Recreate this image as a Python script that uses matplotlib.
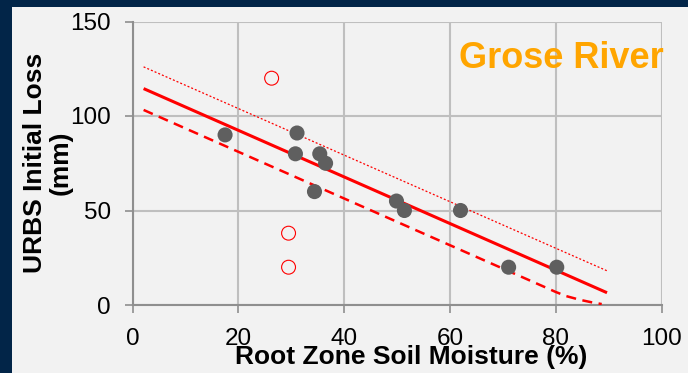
import matplotlib
matplotlib.use("Agg")
import matplotlib.pyplot as plt
from matplotlib.patches import Rectangle

plt.rcParams['font.family'] = ['Liberation Sans', 'DejaVu Sans']

# Observed events: soil moisture (%) vs URBS initial loss (mm)
moisture = [17.5, 31.1, 30.8, 35.4, 36.5, 34.4, 49.9, 51.4, 62.0, 71.1, 80.2]
initial_loss = [90, 91, 80, 80, 75, 60, 55, 50, 50, 20, 20]

# Excluded events (open circles)
outlier_moisture = [26.3, 29.5, 29.5]
outlier_loss = [120, 38, 20]

# Regression line and bounds
fit_x = [2.1, 89.7]
fit_y = [114.5, 6.5]
upper_x = [2.1, 89.7]
upper_y = [126.0, 18.1]
lower_x = [2.1, 78.0, 80.0, 82.0, 84.5, 87.0, 88.7]
lower_y = [103.2, 9.4, 6.9, 4.7, 2.8, 1.3, 0.5]

x_ticks = [0, 20, 40, 60, 80, 100]
y_ticks = [0, 50, 100, 150]

navy = '#022548'
panel = '#f2f2f2'
grid_c = '#bfbfbf'
spine_c = '#8f8f8f'
red = '#ff0000'
dot_c = '#5f5f5f'

fig = plt.figure(figsize=(6.88, 3.73), dpi=100, facecolor=navy)
fig.add_artist(Rectangle((12 / 688, 0), 1 - 12 / 688, 1 - 7 / 373,
                         transform=fig.transFigure, facecolor=panel,
                         edgecolor='none', zorder=-10))

ax = fig.add_axes([132.5 / 688, 1 - 305 / 373, (661.5 - 132.5) / 688, (305 - 21.5) / 373])
ax.set_facecolor(panel)
ax.set_xlim(0, 100)
ax.set_ylim(0, 150)
ax.set_xticks(x_ticks)
ax.set_yticks(y_ticks)
ax.grid(True, color=grid_c, linewidth=1.5, zorder=0)
ax.set_axisbelow(True)
for side in ('top', 'right'):
    ax.spines[side].set_visible(False)
for side in ('left', 'bottom'):
    ax.spines[side].set_color(spine_c)
    ax.spines[side].set_linewidth(1.5)
    ax.spines[side].set_zorder(1)
ax.tick_params(axis='both', direction='out', length=5.5, width=1.2, color=spine_c,
               labelsize=17.5, labelcolor='black')
ax.tick_params(axis='y', pad=10)
ax.tick_params(axis='x', pad=11)

ax.plot(fit_x, fit_y, color=red, linewidth=2.2, zorder=3, solid_capstyle='butt')
ax.plot(upper_x, upper_y, color=red, linewidth=0.9, linestyle=(0, (1.6, 1.6)), zorder=3)
ax.plot(lower_x, lower_y, color=red, linewidth=1.8, linestyle=(0, (4, 2.6)), zorder=3)

ax.scatter(moisture, initial_loss, s=118, color=dot_c, edgecolors='none', zorder=4)
ax.scatter(outlier_moisture, outlier_loss, s=100, facecolors='none', edgecolors=red,
           linewidths=0.8, zorder=4)

ax.text(1.004, 0.87, 'Grose River', transform=ax.transAxes, ha='right', va='center',
        fontsize=26, fontweight='bold', color='#ffa500', zorder=5)

fig.text(411 / 688, 1 - 364 / 373, 'Root Zone Soil Moisture (%)', ha='center',
         va='baseline', fontsize=19, fontweight='bold', color='black')
fig.text(48 / 688, 1 - 163 / 373, 'URBS Initial Loss\n(mm)', ha='center', va='center',
         rotation=90, multialignment='center', fontsize=19, fontweight='bold',
         color='black', linespacing=1.1)

fig.savefig('out.png', dpi=100, facecolor=navy)
